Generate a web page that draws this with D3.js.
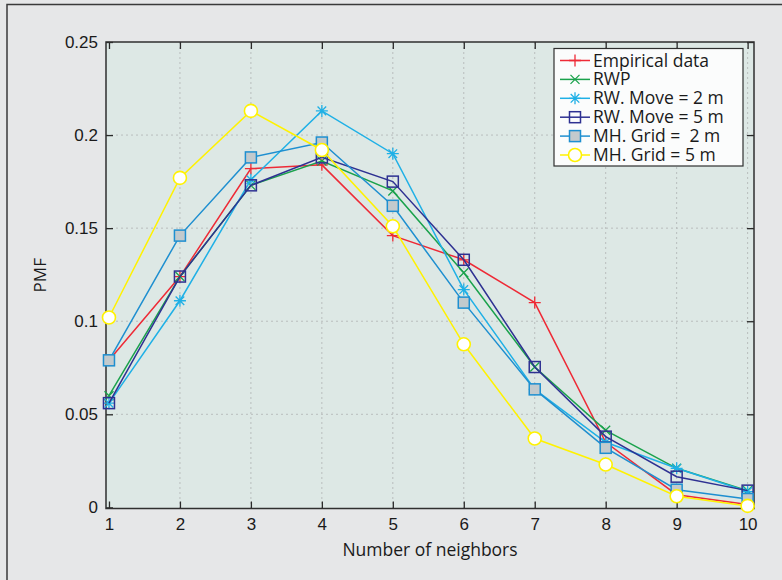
<!DOCTYPE html>
<html><head><meta charset="utf-8">
<script src="https://cdn.jsdelivr.net/npm/d3@7"></script>
<style>
html,body{margin:0;padding:0;background:#e6e7e8;}
svg{display:block;font-family:"Open Sans","Noto Sans",sans-serif;}
</style></head>
<body>
<svg id="chart" width="782" height="580"></svg>
<script>
const neighbors = [1,2,3,4,5,6,7,8,9,10];
const empirical = [0.079,0.124,0.182,0.184,0.146,0.133,0.110,0.035,0.0068,0.0016];
const rwp       = [0.060,0.124,0.173,0.186,0.170,0.126,0.0754,0.0414,0.021,0.009];
const rwMove2   = [0.056,0.111,0.176,0.213,0.190,0.117,0.0634,0.035,0.021,0.0085];
const rwMove5   = [0.056,0.124,0.173,0.188,0.175,0.133,0.0754,0.038,0.0165,0.009];
const mhGrid2   = [0.079,0.146,0.188,0.196,0.162,0.110,0.0634,0.032,0.0095,0.0045];
const mhGrid5   = [0.102,0.177,0.213,0.192,0.151,0.0876,0.037,0.023,0.006,0.0008];
const seriesNames = ["Empirical data","RWP","RW. Move = 2 m","RW. Move = 5 m","MH. Grid =  2 m","MH. Grid = 5 m"];
const yTicks = [0,0.05,0.1,0.15,0.2,0.25];
const yTickLabels = ["0","0.05","0.1","0.15","0.2","0.25"];
const xTickLabels = ["1","2","3","4","5","6","7","8","9","10"];

const series = [
  {name:seriesNames[0], values:empirical, color:"#ee2a36", marker:"plus"},
  {name:seriesNames[1], values:rwp, color:"#1aa24c", marker:"x"},
  {name:seriesNames[2], values:rwMove2, color:"#1fb0e6", marker:"star"},
  {name:seriesNames[3], values:rwMove5, color:"#2e3192", marker:"square", fill:"none"},
  {name:seriesNames[4], values:mhGrid2, color:"#1e8fd0", marker:"square", fill:"#c2cacd"},
  {name:seriesNames[5], values:mhGrid5, color:"#fff200", marker:"circle", fill:"#ffffff"}
];

const svg = d3.select("#chart");
// outer frame
svg.append("path").attr("d","M7,580 V4.5 H782").attr("fill","none").attr("stroke","#3a3a3a").attr("stroke-width",1.5);

const L=106, R=754, T=42, B=508.5;
const x = d3.scaleLinear().domain([0.958,10.09]).range([L,R]);
const y = d3.scaleLinear().domain([-0.0006,0.25]).range([B,T]);

svg.append("rect").attr("x",L).attr("y",T).attr("width",R-L).attr("height",B-T).attr("fill","#dde8e5");

// grid
const g = svg.append("g");
g.selectAll(".vg").data(neighbors.slice(1)).join("line")
  .attr("x1",d=>x(d)).attr("x2",d=>x(d)).attr("y1",T).attr("y2",B)
  .attr("stroke","#b9bdbd").attr("stroke-width",1).attr("stroke-dasharray","2,3");
g.selectAll(".hg").data(yTicks.slice(1,-1)).join("line")
  .attr("x1",L).attr("x2",R).attr("y1",d=>y(d)).attr("y2",d=>y(d))
  .attr("stroke","#b9bdbd").attr("stroke-width",1).attr("stroke-dasharray","2,3");

// axes
const tickLen = 7;
const xAxisB = d3.axisBottom(x).tickValues(neighbors).tickFormat((d,i)=>xTickLabels[i]).tickSizeInner(-tickLen).tickSizeOuter(0).tickPadding(9);
const xAxisT = d3.axisTop(x).tickValues(neighbors).tickFormat("").tickSizeInner(-tickLen).tickSizeOuter(0);
const yAxisL = d3.axisLeft(y).tickValues(yTicks).tickFormat((d,i)=>yTickLabels[i]).tickSizeInner(-tickLen).tickSizeOuter(0).tickPadding(8);
const yAxisR = d3.axisRight(y).tickValues(yTicks).tickFormat("").tickSizeInner(-tickLen).tickSizeOuter(0);

function style(sel){
  sel.select(".domain").remove();
  sel.selectAll(".tick line").attr("stroke","#2a2a2a").attr("stroke-width",1.3);
  sel.selectAll(".tick text").attr("fill","#1a1a1a").style("font-size","17px");
}
svg.append("g").attr("transform",`translate(0,${B})`).call(xAxisB).call(style);
svg.append("g").attr("transform",`translate(0,${T})`).call(xAxisT).call(style);
svg.append("g").attr("transform",`translate(${L},0)`).call(yAxisL).call(style);
svg.append("g").attr("transform",`translate(${R},0)`).call(yAxisR).call(style);

svg.append("rect").attr("x",L).attr("y",T).attr("width",R-L).attr("height",B-T)
  .attr("fill","none").attr("stroke","#2f2f2f").attr("stroke-width",1.5);

// labels
svg.append("text").attr("x",430).attr("y",556).attr("text-anchor","middle")
  .style("font-size","17.5px").attr("fill","#1a1a1a").text("Number of neighbors");
svg.append("text").attr("transform",`translate(46,${(T+B)/2}) rotate(-90)`).attr("text-anchor","middle")
  .style("font-size","17px").attr("fill","#1a1a1a").text("PMF");

// markers
function drawMarker(sel, s, cx, cy){
  const c = s.color;
  if(s.marker==="plus"){
    sel.append("path").attr("d",`M${cx-6},${cy}H${cx+6}M${cx},${cy-6}V${cy+6}`).attr("stroke",c).attr("stroke-width",1.3).attr("fill","none");
  } else if(s.marker==="x"){
    sel.append("path").attr("d",`M${cx-4.5},${cy-4.5}L${cx+4.5},${cy+4.5}M${cx-4.5},${cy+4.5}L${cx+4.5},${cy-4.5}`).attr("stroke",c).attr("stroke-width",1.3).attr("fill","none");
  } else if(s.marker==="star"){
    sel.append("path").attr("d",`M${cx-6},${cy}H${cx+6}M${cx},${cy-6}V${cy+6}M${cx-4.3},${cy-4.3}L${cx+4.3},${cy+4.3}M${cx-4.3},${cy+4.3}L${cx+4.3},${cy-4.3}`).attr("stroke",c).attr("stroke-width",1.3).attr("fill","none");
  } else if(s.marker==="square"){
    sel.append("rect").attr("x",cx-5.5).attr("y",cy-5.5).attr("width",11).attr("height",11).attr("stroke",c).attr("stroke-width",1.5).attr("fill",s.fill);
  } else if(s.marker==="circle"){
    sel.append("circle").attr("cx",cx).attr("cy",cy).attr("r",6.5).attr("stroke",c).attr("stroke-width",1.6).attr("fill",s.fill);
  }
}

const line = d3.line().x((d,i)=>x(neighbors[i])).y(d=>y(d));
series.forEach(s=>{
  const gs = svg.append("g");
  gs.append("path").attr("d",line(s.values)).attr("fill","none").attr("stroke",s.color).attr("stroke-width",1.5);
  s.values.forEach((v,i)=>drawMarker(gs, s, x(neighbors[i]), y(v)));
});

// legend
const lg = svg.append("g");
lg.append("rect").attr("x",554).attr("y",48.5).attr("width",189).attr("height",117.5)
  .attr("fill","#fbfcfc").attr("stroke","#2f2f2f").attr("stroke-width",1.2);
series.forEach((s,i)=>{
  const cy = 60.5 + i*18.9;
  lg.append("line").attr("x1",560).attr("x2",590).attr("y1",cy).attr("y2",cy).attr("stroke",s.color).attr("stroke-width",1.5);
  drawMarker(lg, s, 575, cy);
  lg.append("text").attr("x",593).attr("y",cy+6).style("font-size","17.5px").attr("fill","#1a1a1a").text(s.name).attr("xml:space","preserve").style("white-space","pre");
});
</script>
</body></html>
